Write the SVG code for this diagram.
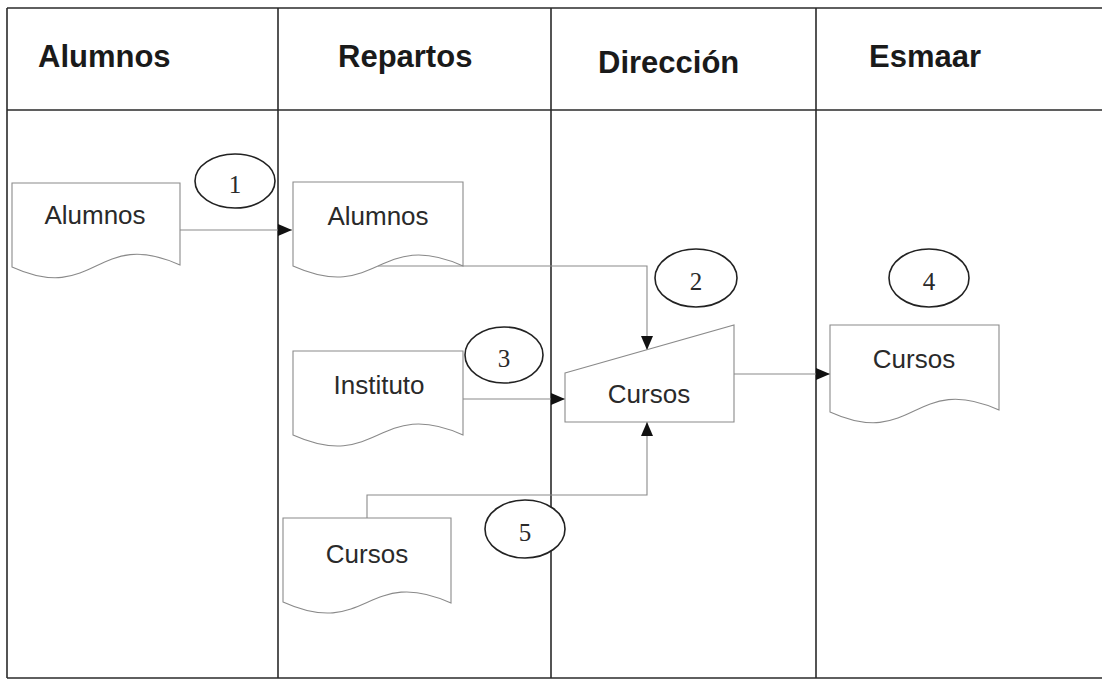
<svg xmlns="http://www.w3.org/2000/svg" width="1102" height="682" viewBox="0 0 1102 682">
<style>
.frame{stroke:#2a2a2a;stroke-width:1.6;fill:none}
.hdr{font-family:"Liberation Sans",Arial,sans-serif;font-weight:bold;font-size:31px;fill:#1a1a1a}
.doc{fill:#fff;stroke:#8a8a8a;stroke-width:1.1}
.lbl{font-family:"Liberation Sans",Arial,sans-serif;font-size:26px;fill:#2a2a2a;text-anchor:middle}
.num{font-family:"Liberation Serif","Times New Roman",serif;font-size:25px;fill:#2a2a2a;text-anchor:middle}
.circ{fill:#fff;stroke:#222;stroke-width:1.6}
.conn{fill:none;stroke:#8a8a8a;stroke-width:1.1}
</style>
<defs>
<marker id="arr" markerUnits="userSpaceOnUse" markerWidth="14" markerHeight="12" refX="14" refY="6" orient="auto">
<path d="M0,0 L14,6 L0,12 Z" fill="#111"/>
</marker>
</defs>
<rect width="1102" height="682" fill="#fff"/>
<g id="lanes">
<line class="frame" x1="7" y1="8" x2="1102" y2="8"/>
<line class="frame" x1="7" y1="110" x2="1102" y2="110"/>
<line class="frame" x1="7" y1="678" x2="1102" y2="678"/>
<line class="frame" x1="7" y1="8" x2="7" y2="678"/>
<line class="frame" x1="278" y1="8" x2="278" y2="678"/>
<line class="frame" x1="551" y1="8" x2="551" y2="678"/>
<line class="frame" x1="816" y1="8" x2="816" y2="678"/>
<text class="hdr" x="38" y="67">Alumnos</text>
<text class="hdr" x="338" y="67">Repartos</text>
<text class="hdr" x="598" y="73">Dirección</text>
<text class="hdr" x="869" y="67">Esmaar</text>
</g>
<g id="connectors">
<line class="conn" x1="180" y1="230" x2="292" y2="230" marker-end="url(#arr)"/>
<polyline class="conn" points="378,266 647,266 647,350" marker-end="url(#arr)"/>
<line class="conn" x1="463" y1="399" x2="565" y2="399" marker-end="url(#arr)"/>
<polyline class="conn" points="367,518 367,495 647,495 647,422" marker-end="url(#arr)"/>
<line class="conn" x1="734" y1="374" x2="830" y2="374" marker-end="url(#arr)"/>
</g>
<g id="doc-alumnos-1">
<path class="doc" d="M12,183 H180 V265 C96,227 96,305 12,267 Z"/>
<text class="lbl" x="95" y="224">Alumnos</text>
</g>
<g id="doc-alumnos-2">
<path class="doc" d="M293,182 H463 V266 C378,228 378,304 293,266 Z"/>
<text class="lbl" x="378" y="225">Alumnos</text>
</g>
<g id="doc-instituto">
<path class="doc" d="M293,351 H463 V435 C378,397 378,473 293,435 Z"/>
<text class="lbl" x="379" y="394">Instituto</text>
</g>
<g id="doc-cursos-repartos">
<path class="doc" d="M283,518 H451 V603 C367,565 367,640 283,602 Z"/>
<text class="lbl" x="367" y="563">Cursos</text>
</g>
<g id="input-cursos">
<path class="doc" d="M565,373 L734,325 V422 H565 Z"/>
<text class="lbl" x="649" y="403">Cursos</text>
</g>
<g id="doc-cursos-esmaar">
<path class="doc" d="M830,325 H999 V410 C914,372 914,450 830,412 Z"/>
<text class="lbl" x="914" y="368">Cursos</text>
</g>
<g id="step-1">
<ellipse class="circ" cx="235" cy="181" rx="40" ry="27"/>
<text class="num" x="235" y="193">1</text>
</g>
<g id="step-2">
<ellipse class="circ" cx="696" cy="278" rx="41" ry="29"/>
<text class="num" x="696" y="290">2</text>
</g>
<g id="step-3">
<ellipse class="circ" cx="504" cy="355" rx="39" ry="28"/>
<text class="num" x="504" y="367">3</text>
</g>
<g id="step-4">
<ellipse class="circ" cx="929" cy="278" rx="40" ry="29"/>
<text class="num" x="929" y="290">4</text>
</g>
<g id="step-5">
<ellipse class="circ" cx="525" cy="529" rx="40" ry="29"/>
<text class="num" x="525" y="541">5</text>
</g>
</svg>
